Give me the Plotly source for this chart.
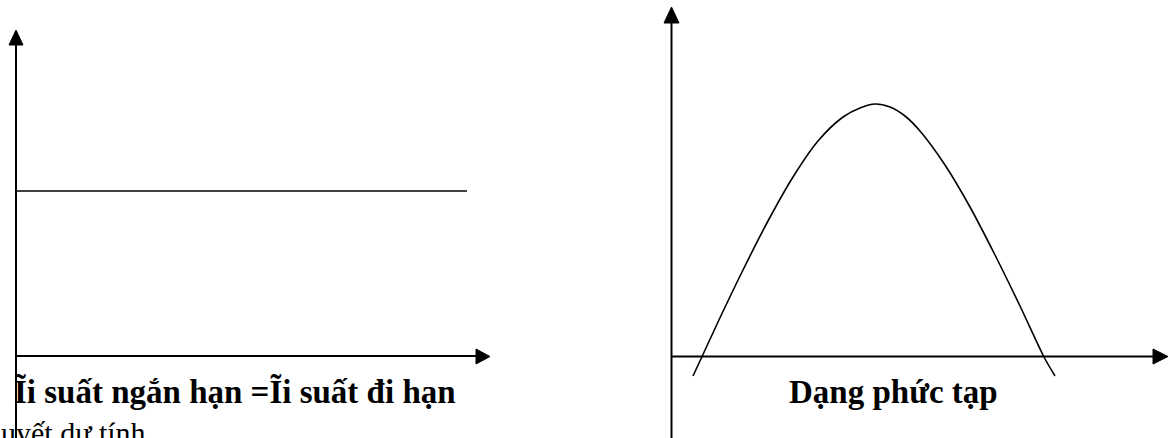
import plotly.graph_objects as go

# ---- diagram data (pixel-like coordinates) ----
# Left panel: flat yield curve
left_vaxis_x = [16, 16]
left_vaxis_y = [438, 44]
left_vhead_x = [9, 23, 16, 9]
left_vhead_y = [45, 45, 30, 45]
left_haxis_x = [16, 477]
left_haxis_y = [356, 356]
left_hhead_x = [476, 476, 490, 476]
left_hhead_y = [349, 364, 356.5, 349]
flat_x = [16, 467]
flat_y = [191, 191]

# Right panel: humped (complex) yield curve
right_vaxis_x = [671.5, 671.5]
right_vaxis_y = [438, 22]
right_vhead_x = [664, 679, 671.5, 664]
right_vhead_y = [23, 23, 7, 23]
right_haxis_x = [671, 1154]
right_haxis_y = [356.5, 356.5]
right_hhead_x = [1153, 1153, 1168, 1153]
right_hhead_y = [349, 364, 356.5, 349]
hump_x = [693, 718, 743, 768, 793, 818, 843, 860, 875, 890, 905, 920, 945, 970, 995, 1020, 1044, 1055]
hump_y = [376, 322, 270, 221, 177, 141, 117, 108, 104, 107, 116, 131, 165, 207, 255, 306, 357, 376]

# Labels
left_label = "Ĩi suất ngắn hạn =Ĩi suất đi hạn"
right_label = "Dạng phức tạp"
bottom_label = "uyết dư tính"

fig = go.Figure()

def line(x, y, w):
    fig.add_trace(go.Scatter(x=x, y=y, mode="lines", line=dict(color="black", width=w),
                             hoverinfo="skip", showlegend=False))

def head(x, y):
    fig.add_trace(go.Scatter(x=x, y=y, mode="lines", fill="toself", fillcolor="black",
                             line=dict(color="black", width=1), hoverinfo="skip", showlegend=False))

line(left_vaxis_x, left_vaxis_y, 2)
head(left_vhead_x, left_vhead_y)
line(left_haxis_x, left_haxis_y, 2)
head(left_hhead_x, left_hhead_y)
line(flat_x, flat_y, 1.3)

line(right_vaxis_x, right_vaxis_y, 2)
head(right_vhead_x, right_vhead_y)
line(right_haxis_x, right_haxis_y, 2)
head(right_hhead_x, right_hhead_y)
fig.add_trace(go.Scatter(x=hump_x, y=hump_y, mode="lines",
                         line=dict(color="black", width=1.6, shape="spline", smoothing=0.8),
                         hoverinfo="skip", showlegend=False))

serif = "Liberation Serif, Times New Roman, serif"
fig.add_annotation(x=234.5, y=392, text="<b>" + left_label + "</b>", showarrow=False,
                   xanchor="center", yanchor="middle", font=dict(family=serif, size=33, color="black"))
fig.add_annotation(x=893, y=392, text="<b>" + right_label + "</b>", showarrow=False,
                   xanchor="center", yanchor="middle", font=dict(family=serif, size=33, color="black"))
fig.add_annotation(xref="paper", yref="paper", x=-0.001, y=(438 - 414) / 438, text=bottom_label,
                   showarrow=False, xanchor="left", yanchor="top",
                   font=dict(family=serif, size=30, color="black"))

fig.update_layout(
    width=1169, height=438,
    margin=dict(l=0, r=0, t=0, b=0),
    paper_bgcolor="white", plot_bgcolor="white",
    xaxis=dict(range=[0, 1169], visible=False, fixedrange=True),
    yaxis=dict(range=[438, 0], visible=False, fixedrange=True),
)

fig.write_html("out.html", config={"displayModeBar": False},
               post_script="document.body.style.margin='0';document.body.style.overflow='hidden';")
